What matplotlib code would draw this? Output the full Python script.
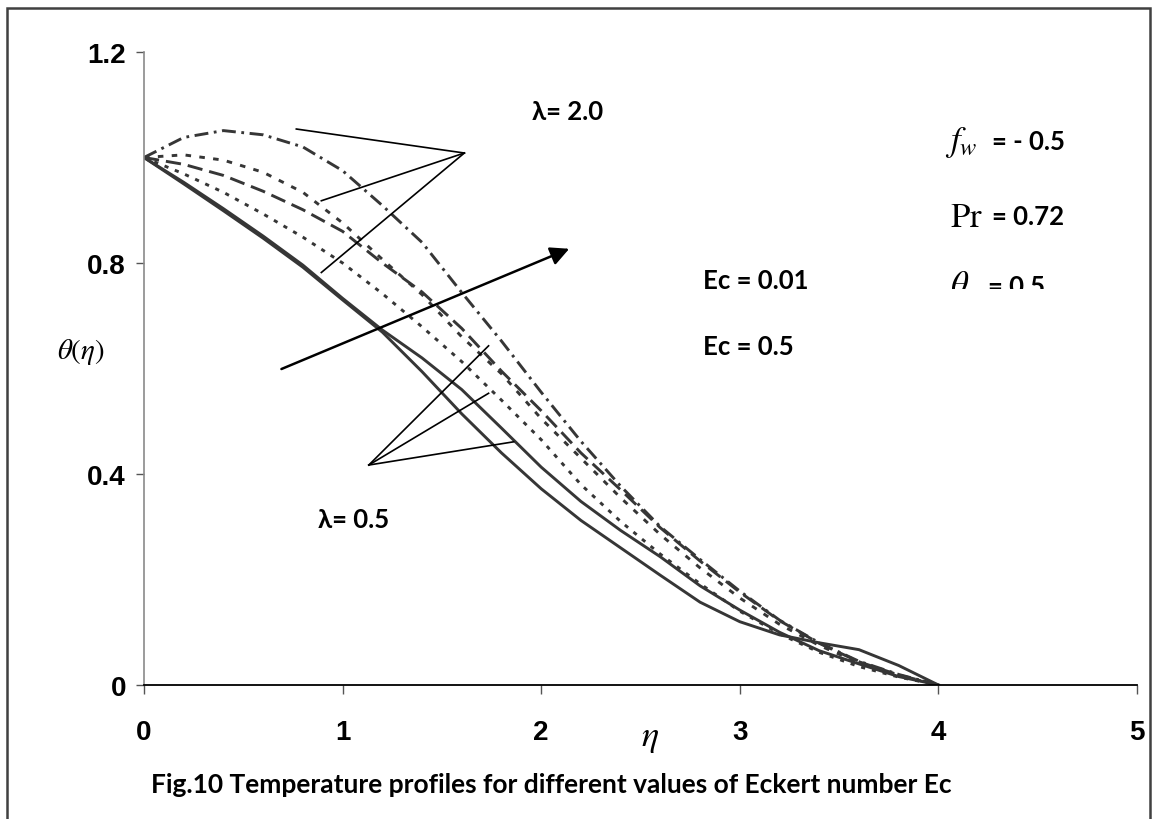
import numpy as np
import matplotlib
matplotlib.use('Agg')
import matplotlib.pyplot as plt
from matplotlib.patches import Rectangle
from matplotlib.transforms import Bbox, TransformedBbox

plt.rcParams['mathtext.fontset'] = 'stix'
plt.rcParams['lines.scale_dashes'] = False

# eta grid and temperature profiles
eta = [0.0, 0.2, 0.4, 0.6, 0.8, 1.0, 1.2, 1.4, 1.6, 1.8, 2.0,
       2.2, 2.4, 2.6, 2.8, 3.0, 3.2, 3.4, 3.6, 3.8, 4.0]

theta_a = [1.0, 1.038, 1.051, 1.043, 1.02, 0.975, 0.909, 0.839, 0.744, 0.652, 0.555,
           0.462, 0.377, 0.300, 0.238, 0.178, 0.123, 0.080, 0.045, 0.020, 0.0]
theta_b = [1.0, 1.005, 0.995, 0.972, 0.934, 0.876, 0.807, 0.740, 0.660, 0.590, 0.505,
           0.430, 0.355, 0.285, 0.222, 0.165, 0.115, 0.075, 0.042, 0.018, 0.0]
theta_c = [1.0, 0.987, 0.966, 0.936, 0.901, 0.860, 0.800, 0.745, 0.676, 0.595, 0.520,
           0.440, 0.370, 0.298, 0.235, 0.176, 0.122, 0.079, 0.044, 0.019, 0.0]
theta_d = [1.0, 0.969, 0.934, 0.893, 0.849, 0.800, 0.742, 0.679, 0.613, 0.540, 0.465,
           0.380, 0.310, 0.248, 0.192, 0.140, 0.097, 0.062, 0.035, 0.015, 0.0]
theta_e = [1.0, 0.953, 0.903, 0.851, 0.796, 0.733, 0.673, 0.620, 0.560, 0.487, 0.413,
           0.348, 0.293, 0.243, 0.188, 0.142, 0.100, 0.065, 0.040, 0.016, 0.0]
theta_f = [1.0, 0.950, 0.899, 0.847, 0.792, 0.730, 0.669, 0.594, 0.514, 0.440, 0.372,
           0.312, 0.260, 0.208, 0.157, 0.120, 0.095, 0.080, 0.067, 0.037, 0.0]

curves = [theta_a, theta_b, theta_c, theta_d, theta_e, theta_f]
styles = [(0, (10, 4, 2, 4)), (0, (4, 6)), (0, (11, 5)), (0, (3, 5)), '-', '-']

x_ticks = [0, 1, 2, 3, 4, 5]
y_ticks = [0, 0.4, 0.8, 1.2]
y_labels = ['0', '0.4', '0.8', '1.2']

# annotation pointers (data coords)
lam2_apex = (1.613, 1.0085)
lam2_ends = [(0.767, 1.054), (0.893, 0.918), (0.893, 0.782)]
lam05_apex = (1.132, 0.417)
lam05_ends = [(1.735, 0.643), (1.735, 0.553), (1.861, 0.461)]
arrow_start = (0.692, 0.599)
arrow_end = (2.141, 0.827)

fig = plt.figure(figsize=(11.57, 8.2), dpi=100)
ax = fig.add_axes([144 / 1157, 1 - 686 / 820, 993 / 1157, 633 / 820])

for th, ls in zip(curves, styles):
    ax.plot(eta, th, color='#363636', lw=2.1, linestyle=ls)

ax.set_xlim(0, 5)
ax.set_ylim(0, 1.2)
ax.spines['top'].set_visible(False)
ax.spines['right'].set_visible(False)
ax.spines['left'].set_color('#8a8a8a')
ax.spines['left'].set_linewidth(1.2)
ax.spines['bottom'].set_color('black')
ax.spines['bottom'].set_linewidth(1.3)

ax.set_xticks(x_ticks)
ax.set_xticklabels([str(v) for v in x_ticks])
ax.set_yticks(y_ticks)
ax.set_yticklabels(y_labels)
ax.tick_params(axis='x', direction='out', length=6.5, width=1, color='#555555', pad=18)
ax.tick_params(axis='y', direction='out', length=6, width=1, color='#555555', pad=7)
for lab in ax.get_xticklabels() + ax.get_yticklabels():
    lab.set_fontfamily('Liberation Sans')
    lab.set_fontweight('bold')
    lab.set_fontsize(20)

# pointer lines
for end in lam2_ends:
    ax.plot([lam2_apex[0], end[0]], [lam2_apex[1], end[1]], color='black', lw=1.2,
            clip_on=False)
for end in lam05_ends:
    ax.plot([lam05_apex[0], end[0]], [lam05_apex[1], end[1]], color='black', lw=1.2,
            clip_on=False)
ax.annotate('', xy=arrow_end, xytext=arrow_start,
            arrowprops=dict(arrowstyle='-|>', color='black', lw=1.8, mutation_scale=28,
                            shrinkA=0, shrinkB=0))

bold = dict(fontfamily='Lato', fontweight='bold', fontsize=18.5, va='center', ha='left')
ax.text(1.955, 1.088, 'λ= 2.0', **bold)
ax.text(0.874, 0.315, 'λ= 0.5', **bold)
ax.text(2.814, 0.768, 'Ec = 0.01', **bold)
ax.text(2.814, 0.642, 'Ec = 0.5', **bold)

ax.text(4.035, 1.031, r'$f_w$', fontsize=25, va='center', ha='left')
ax.text(4.27, 1.031, '= - 0.5', **bold)
ax.text(4.06, 0.889, r'$\mathrm{Pr}$', fontsize=25, va='center', ha='left')
ax.text(4.27, 0.889, '= 0.72', **bold)

# the theta_w line is cut off in the original
clip = TransformedBbox(Bbox([[3.9, 0.751], [5.5, 0.85]]), ax.transData)
t1 = ax.text(4.06, 0.758, r'$\theta_w$', fontsize=25, va='center', ha='left')
t2 = ax.text(4.25, 0.756, '= 0.5', **bold)
for t in (t1, t2):
    t.set_clip_path(None)
    t.set_clip_box(clip)
    t.set_clip_on(True)

fig.text(81 / 1157, 1 - 352 / 820, r'$\theta(\eta)$', fontsize=21, ha='center', va='center')
fig.text(650 / 1157, 1 - 738 / 820, r'$\eta$', fontsize=26, ha='center', va='center')
fig.text(151 / 1157, 1 - 785 / 820,
         'Fig.10 Temperature profiles for different values of Eckert number Ec',
         fontfamily='Lato', fontweight='bold', fontsize=19, ha='left', va='center')

fig.add_artist(Rectangle((7 / 1157, -0.05), 1143 / 1157, 1.05 - 9 / 820,
                         transform=fig.transFigure, fill=False,
                         edgecolor='#404040', lw=1.8))

fig.savefig('out.png', dpi=100)
